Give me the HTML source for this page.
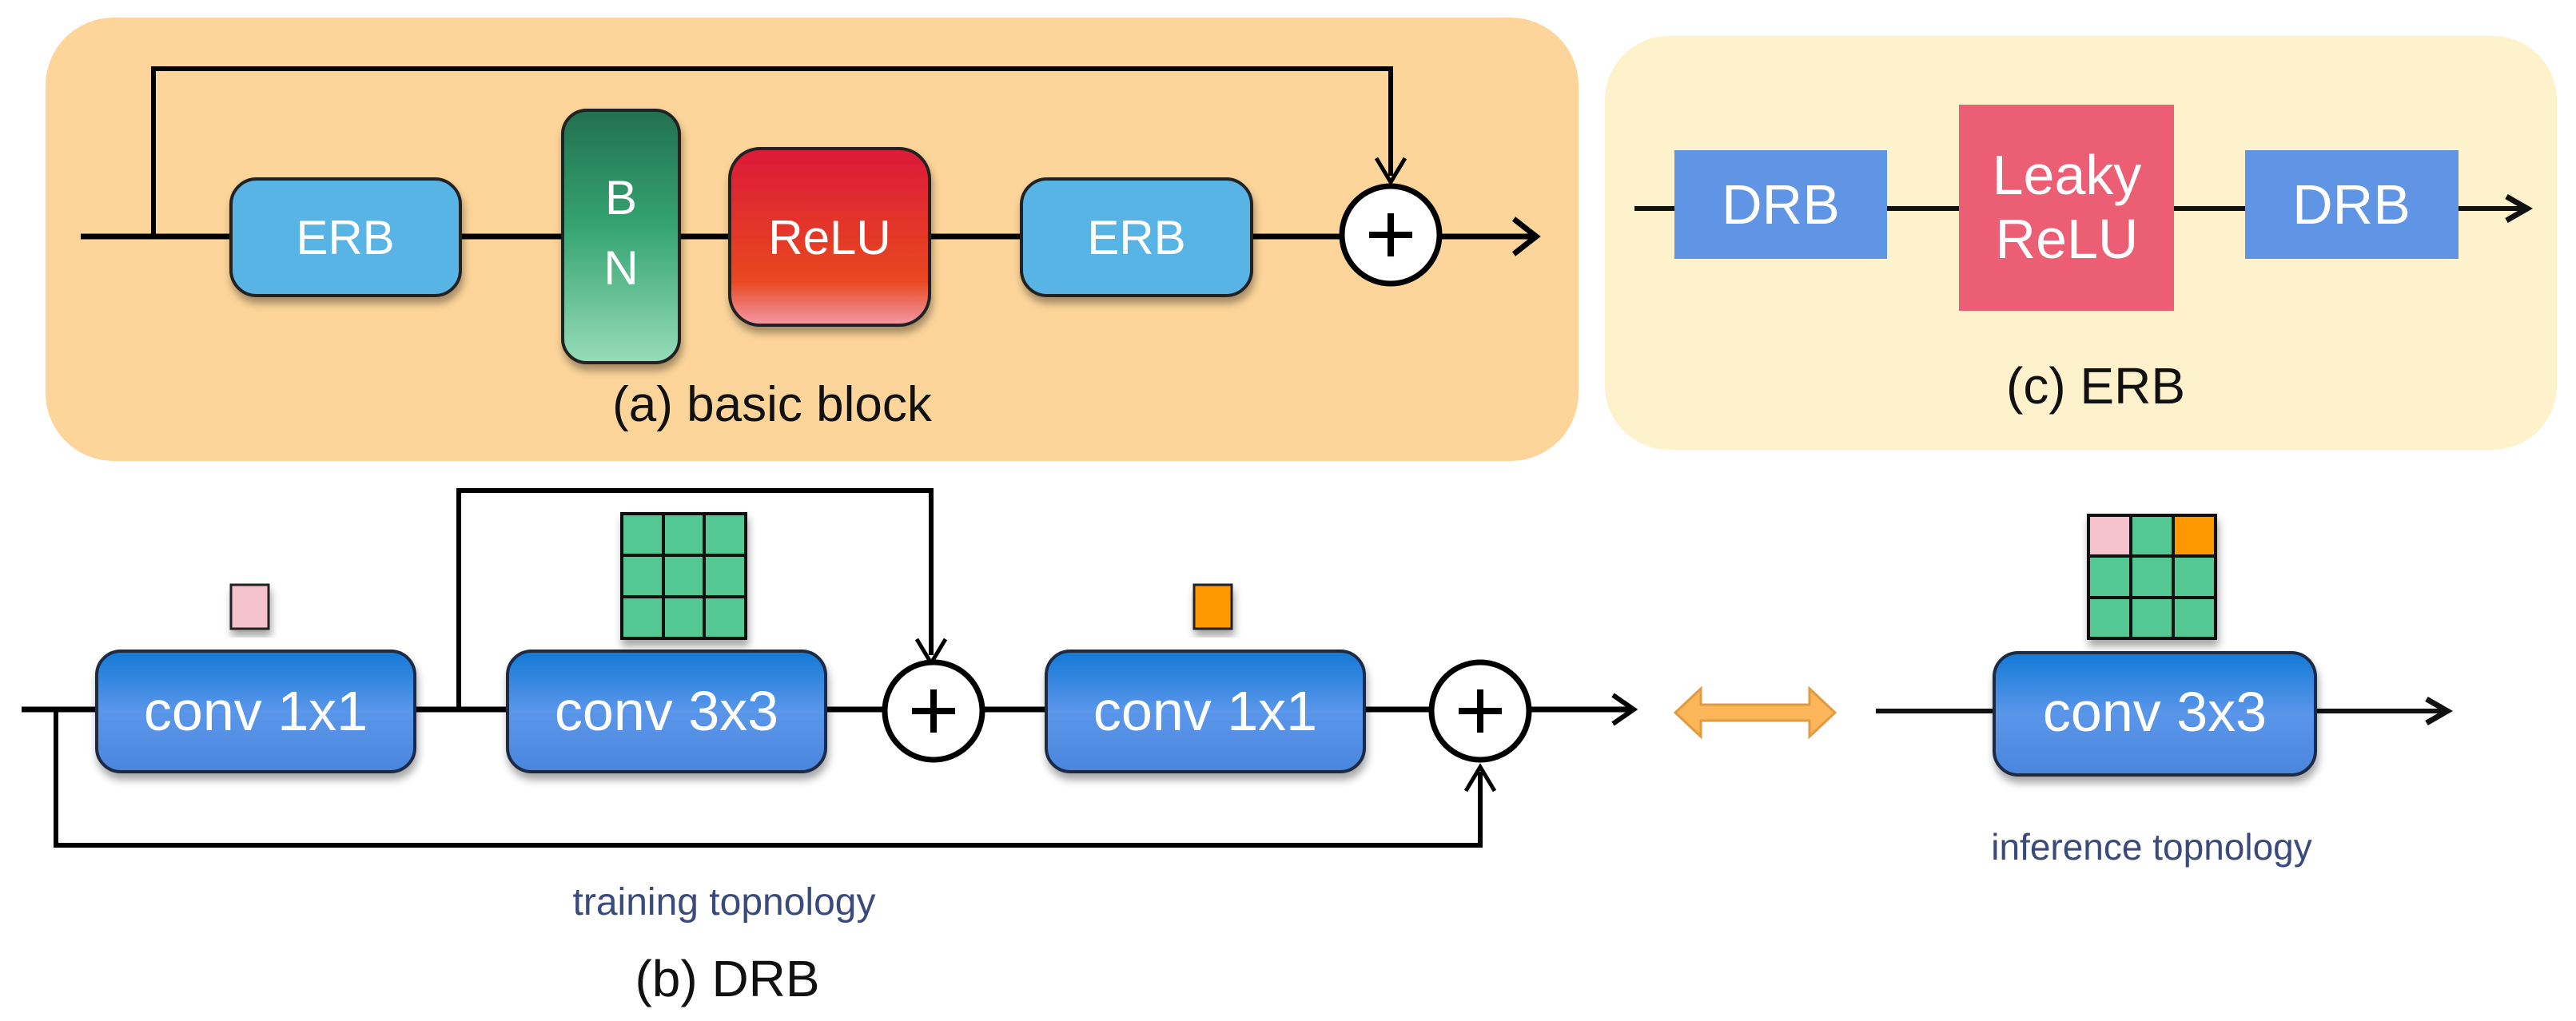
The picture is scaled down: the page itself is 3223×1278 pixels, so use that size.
<!DOCTYPE html>
<html><head><meta charset="utf-8"><style>html,body{margin:0;padding:0;background:#fff}svg{display:block}</style></head>
<body>
<svg width="3223" height="1278" viewBox="0 0 3223 1278" xmlns="http://www.w3.org/2000/svg" font-family="Liberation Sans, Arial, sans-serif">
<defs>
<linearGradient id="bn" x1="0" y1="0" x2="0" y2="1"><stop offset="0" stop-color="#237050"/><stop offset="0.45" stop-color="#34a370"/><stop offset="1" stop-color="#96dcb8"/></linearGradient>
<linearGradient id="relu" x1="0" y1="0" x2="0" y2="1"><stop offset="0" stop-color="#dc1a38"/><stop offset="0.75" stop-color="#e84820"/><stop offset="1" stop-color="#f29aa8"/></linearGradient>
<linearGradient id="conv" x1="0" y1="0" x2="0" y2="1"><stop offset="0" stop-color="#137ad6"/><stop offset="0.5" stop-color="#5a96ea"/><stop offset="1" stop-color="#4a86dc"/></linearGradient>
<filter id="sh" x="-10%" y="-10%" width="130%" height="130%"><feDropShadow dx="2" dy="8" stdDeviation="5" flood-color="#000" flood-opacity="0.35"/></filter>
</defs>

<!-- Panel a -->
<rect x="57" y="22" width="1918" height="555" rx="85" fill="#fdd59a"/>
<g stroke="#000" stroke-width="7" fill="none">
<line x1="101" y1="296" x2="1916" y2="296"/>
<polyline points="192,296 192,86 1740,86 1740,220" stroke-width="6"/>
</g>
<path d="M1722 198 L1740 228 L1758 198" fill="none" stroke="#000" stroke-width="5"/>
<path d="M1894 274 L1922 296 L1894 318" fill="none" stroke="#000" stroke-width="7"/>
<g filter="url(#sh)" stroke="#222" stroke-width="4">
<rect x="289" y="224" width="287" height="146" rx="32" fill="#58b4e4"/>
<rect x="1278" y="224" width="288" height="146" rx="32" fill="#58b4e4"/>
<rect x="704" y="138" width="146" height="316" rx="30" fill="url(#bn)"/>
<rect x="913" y="186" width="250" height="221" rx="38" fill="url(#relu)"/>
</g>
<circle cx="1740" cy="294" r="61" fill="#fff" stroke="#000" stroke-width="7"/>
<path d="M1713 294 H1767 M1740 267 V321" stroke="#000" stroke-width="8"/>
<g fill="#fff" font-size="60" text-anchor="middle">
<text x="432" y="318">ERB</text>
<text x="1422" y="318">ERB</text>
<text x="777" y="268">B</text>
<text x="777" y="356">N</text>
<text x="1038" y="318">ReLU</text>
</g>
<text x="966" y="527" font-size="62" text-anchor="middle" fill="#111">(a) basic block</text>

<!-- Panel c -->
<rect x="2008" y="45" width="1191" height="518" rx="80" fill="#fef2cc"/>
<line x1="2045" y1="261" x2="3158" y2="261" stroke="#111" stroke-width="6"/>
<path d="M3136 246 L3162 261 L3136 276" fill="none" stroke="#111" stroke-width="7"/>
<rect x="2095" y="188" width="266" height="136" fill="#6095e5"/>
<rect x="2809" y="188" width="267" height="136" fill="#6095e5"/>
<rect x="2451" y="131" width="269" height="258" fill="#ec5e73"/>
<g fill="#fff" font-size="70" text-anchor="middle">
<text x="2228" y="280">DRB</text>
<text x="2942" y="280">DRB</text>
<text x="2586" y="243">Leaky</text>
<text x="2586" y="323">ReLU</text>
</g>
<text x="2622" y="505" font-size="64" text-anchor="middle" fill="#111">(c) ERB</text>

<!-- Panel b training -->
<g stroke="#000" stroke-width="7" fill="none">
<line x1="27" y1="888" x2="2040" y2="888"/>
<polyline points="574,888 574,614 1165,614 1165,820" stroke-width="6"/>
<polyline points="70,888 70,1058 1852,1058 1852,966" stroke-width="6"/>
</g>
<path d="M1147 800 L1165 830 L1183 800" fill="none" stroke="#000" stroke-width="5"/>
<path d="M1834 990 L1852 960 L1870 990" fill="none" stroke="#000" stroke-width="5"/>
<path d="M2018 870 L2044 888 L2018 906" fill="none" stroke="#000" stroke-width="6"/>
<g filter="url(#sh)" stroke="#1a2a44" stroke-width="4">
<rect x="121" y="815" width="398" height="151" rx="30" fill="url(#conv)"/>
<rect x="635" y="815" width="398" height="151" rx="30" fill="url(#conv)"/>
<rect x="1309" y="815" width="398" height="151" rx="30" fill="url(#conv)"/>
</g>
<circle cx="1168" cy="890" r="61" fill="#fff" stroke="#000" stroke-width="7"/>
<path d="M1141 890 H1195 M1168 863 V917" stroke="#000" stroke-width="8"/>
<circle cx="1852" cy="890" r="61" fill="#fff" stroke="#000" stroke-width="7"/>
<path d="M1825 890 H1879 M1852 863 V917" stroke="#000" stroke-width="8"/>
<g fill="#fff" font-size="70" text-anchor="middle">
<text x="320" y="914">conv 1x1</text>
<text x="834" y="914">conv 3x3</text>
<text x="1508" y="914">conv 1x1</text>
</g>
<g filter="url(#sh)" stroke="#222" stroke-width="3">
<rect x="289" y="732" width="47" height="55" fill="#f5c2cc"/>
<rect x="1494" y="732" width="47" height="55" fill="#ff9800"/>
</g>
<g stroke="#111" stroke-width="4">
<rect x="778" y="643" width="155" height="156" fill="#52c893" filter="url(#sh)"/>
<path d="M830 643 V799 M881 643 V799 M778 695 H933 M778 747 H933" fill="none"/>
</g>
<text x="906" y="1145" font-size="48" text-anchor="middle" fill="#3a4a7c">training topnology</text>
<text x="910" y="1247" font-size="64" text-anchor="middle" fill="#111">(b) DRB</text>

<!-- double arrow -->
<path d="M2096 892 L2128 862 L2128 882 L2264 882 L2264 862 L2296 892 L2264 922 L2264 902 L2128 902 L2128 922 Z" fill="#fdb55a" stroke="#e09a40" stroke-width="3"/>

<!-- inference -->
<line x1="2347" y1="890" x2="3058" y2="890" stroke="#111" stroke-width="6"/>
<path d="M3036 875 L3062 890 L3036 905" fill="none" stroke="#111" stroke-width="7"/>
<rect x="2495" y="817" width="402" height="153" rx="30" fill="url(#conv)" stroke="#1a2a44" stroke-width="4" filter="url(#sh)"/>
<text x="2696" y="915" fill="#fff" font-size="70" text-anchor="middle">conv 3x3</text>
<g stroke="#111" stroke-width="4">
<rect x="2613" y="645" width="159" height="154" fill="#52c893" filter="url(#sh)"/>
<rect x="2613" y="645" width="53" height="51" fill="#f5c2cc"/>
<rect x="2719" y="645" width="53" height="51" fill="#ff9800"/>
<path d="M2666 645 V799 M2719 645 V799 M2613 696 H2772 M2613 748 H2772" fill="none"/>
</g>
<text x="2692" y="1076" font-size="46" text-anchor="middle" fill="#3a4a7c">inference topnology</text>
</svg>
</body></html>
